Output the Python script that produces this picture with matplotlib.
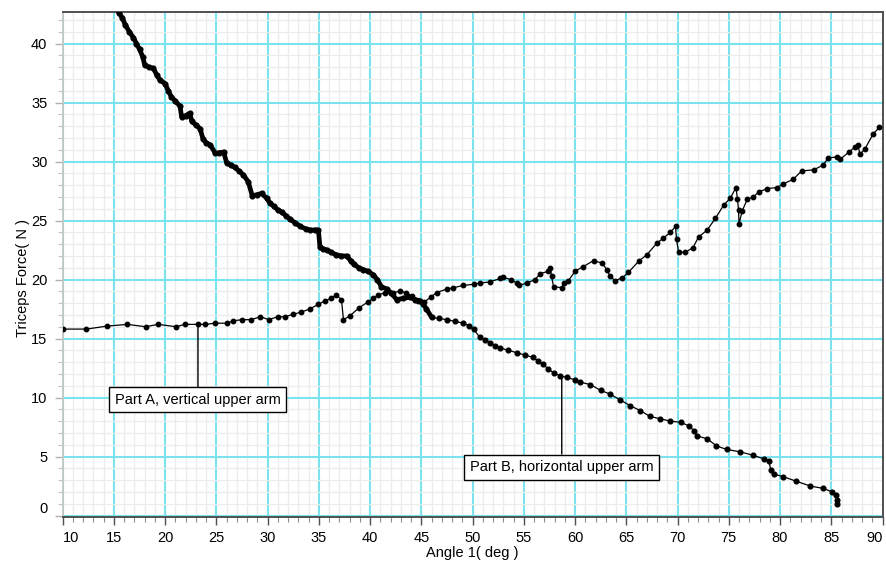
import matplotlib
matplotlib.use("Agg")
import matplotlib.pyplot as plt
from matplotlib.ticker import MultipleLocator
from matplotlib.transforms import ScaledTranslation

# ---- data ----
angle_a = [10.0, 12.3, 14.3, 16.3, 18.1, 19.3, 21.1, 21.9, 23.2, 23.9, 24.9, 26.0, 26.65, 27.5, 28.4,
           29.3, 30.1, 31.0, 31.7, 32.5, 33.3, 34.1, 34.95, 35.6, 36.2, 36.7, 37.2, 37.4, 38.0, 38.9,
           39.8, 40.3, 40.8, 41.5, 42.2, 42.9, 43.5, 44.1, 44.7, 45.3, 45.9, 46.5, 47.5, 48.1, 49.1,
           50.1, 50.7, 51.7, 52.7, 53.0, 53.7, 54.3, 54.5, 55.3, 56.1, 56.6, 57.4, 57.6, 57.7, 57.9,
           58.7, 58.9, 59.35, 60.0, 60.8, 61.8, 62.6, 63.1, 63.4, 63.9, 64.6, 65.2, 66.2, 67.0, 68.0,
           68.6, 69.3, 69.8, 69.9, 70.1, 70.75, 71.5, 72.05, 72.9, 73.7, 74.5, 75.15, 75.7, 75.85,
           75.95, 76.0, 76.3, 76.8, 77.4, 77.9, 78.7, 79.7, 80.3, 81.3, 82.1, 83.3, 84.2, 84.7, 85.55,
           85.9, 86.7, 87.3, 87.6, 87.8, 88.3, 89.1, 89.7]
force_a = [15.8, 15.8, 16.05, 16.2, 16.0, 16.2, 16.0, 16.2, 16.2, 16.2, 16.3, 16.3, 16.5, 16.6, 16.6,
           16.85, 16.6, 16.85, 16.85, 17.05, 17.25, 17.5, 17.9, 18.2, 18.4, 18.7, 18.3, 16.6, 16.9, 17.6,
           18.1, 18.4, 18.7, 18.9, 18.9, 19.0, 18.9, 18.6, 18.2, 18.1, 18.5, 18.9, 19.2, 19.3, 19.5,
           19.6, 19.7, 19.8, 20.1, 20.2, 20.0, 19.7, 19.5, 19.7, 20.0, 20.5, 20.7, 21.0, 20.3, 19.4,
           19.3, 19.7, 19.9, 20.7, 21.1, 21.6, 21.4, 20.85, 20.3, 19.9, 20.15, 20.6, 21.55, 22.1, 23.1,
           23.5, 24.0, 24.5, 23.4, 22.3, 22.3, 22.7, 23.6, 24.2, 25.2, 26.3, 26.9, 27.8, 26.8,
           25.9, 24.7, 25.8, 26.8, 27.0, 27.4, 27.7, 27.8, 28.1, 28.5, 29.2, 29.3, 29.7, 30.3, 30.4,
           30.2, 30.8, 31.2, 31.4, 30.6, 31.1, 32.35, 32.9]

angle_b = [15.3, 15.5, 15.8, 16.1, 16.5, 16.9, 17.2, 17.5, 17.8, 18.0, 18.4, 18.85, 19.2, 19.5, 20.0,
           20.3, 20.6, 21.0, 21.45, 21.6, 22.0, 22.4, 22.6, 23.0, 23.4, 23.7, 24.0, 24.4, 24.9, 25.3,
           25.7, 26.0, 26.4, 26.8, 27.2, 27.6, 28.1, 28.5, 29.0, 29.4, 29.9, 30.2, 30.6, 31.0, 31.4,
           31.8, 32.2, 32.7, 33.2, 33.7, 34.1, 34.6, 34.95, 35.1, 35.4, 35.8, 36.2, 36.7, 37.2, 37.7,
           38.1, 38.4, 38.9, 39.3, 39.8, 40.3, 40.7, 41.1, 41.6, 42.0, 42.6, 43.2, 43.9, 44.4, 44.9,
           45.2, 45.5, 46.0, 46.7, 47.5, 48.3, 49.1, 49.6, 50.1, 50.7, 51.2, 51.7, 52.2, 52.7, 53.5,
           54.3, 55.1, 55.9, 56.4, 56.9, 57.4, 57.9, 58.5, 59.2, 60.0, 60.5, 61.5, 62.5, 63.4, 64.4,
           65.4, 66.35, 67.3, 68.3, 69.3, 70.3, 71.1, 71.6, 71.9, 72.9, 73.8, 74.8, 76.1, 77.4, 78.4,
           78.9, 79.1, 79.4, 80.3, 81.6, 82.95, 84.2, 85.1, 85.5, 85.6, 85.6]
force_b = [43.0, 42.6, 42.2, 41.6, 41.0, 40.5, 40.0, 39.5, 38.9, 38.2, 38.0, 37.9, 37.3, 36.9, 36.6,
           36.0, 35.5, 35.1, 34.7, 33.8, 33.9, 34.1, 33.4, 33.1, 32.8, 31.9, 31.6, 31.4, 30.7, 30.75,
           30.8, 29.9, 29.7, 29.5, 29.2, 28.9, 28.3, 27.1, 27.2, 27.3, 26.9, 26.5, 26.2, 25.9, 25.7,
           25.4, 25.1, 24.8, 24.5, 24.3, 24.2, 24.2, 24.2, 22.8, 22.6, 22.5, 22.3, 22.1, 22.0, 22.0,
           21.6, 21.3, 21.0, 20.85, 20.7, 20.4, 20.0, 19.4, 19.2, 18.9, 18.3, 18.4, 18.5, 18.3, 18.2,
           17.9, 17.5, 16.8, 16.7, 16.6, 16.45, 16.3, 16.1, 15.8, 15.1, 14.9, 14.65, 14.4, 14.2, 14.0,
           13.8, 13.6, 13.4, 13.1, 12.8, 12.4, 12.1, 11.85, 11.7, 11.5, 11.3, 11.1, 10.6, 10.3, 9.8,
           9.3, 8.9, 8.4, 8.2, 8.0, 7.9, 7.6, 7.2, 6.75, 6.5, 5.9, 5.6, 5.4, 5.1, 4.8,
           4.6, 3.9, 3.5, 3.3, 2.9, 2.5, 2.3, 2.0, 1.7, 1.3, 1.0]

label_a = "Part A, vertical upper arm"
label_b = "Part B, horizontal upper arm"
x_label = "Angle 1( deg )"
y_label = "Triceps Force( N )"

# ---- figure ----
plt.rcParams['font.family'] = ['Liberation Sans', 'DejaVu Sans']
fig = plt.figure(figsize=(8.86, 5.65), dpi=100)
ax = fig.add_axes([62.7 / 886, 1 - 516.7 / 565, (882.5 - 62.7) / 886, (516.7 - 11.7) / 565])

ax.set_xlim(10, 90)
ax.set_ylim(-0.1, 42.7)

ax.xaxis.set_major_locator(MultipleLocator(5))
ax.xaxis.set_minor_locator(MultipleLocator(1))
ax.yaxis.set_major_locator(MultipleLocator(5))
ax.yaxis.set_minor_locator(MultipleLocator(1))

ax.grid(which='minor', color='#ececec', lw=0.9, zorder=0)
ax.grid(which='major', color='#7be3ee', lw=1.5, zorder=1)
ax.set_axisbelow(True)

for s in ['top', 'right', 'bottom']:
    ax.spines[s].set_color('#505050')
    ax.spines[s].set_linewidth(1.4)
ax.spines['left'].set_color('#c4c4c4')
ax.spines['left'].set_linewidth(1.2)

ax.tick_params(axis='x', which='major', length=6, width=1, color='#505050', labelsize=10.5, pad=4)
ax.tick_params(axis='x', which='minor', length=3.5, width=0.8, color='#909090')
ax.tick_params(axis='y', which='major', length=6, width=1, color='#b0b0b0', labelsize=10.5, pad=5)
ax.tick_params(axis='y', which='minor', length=3.5, width=0.8, color='#c0c0c0')

# series
ax.plot(angle_a, force_a, color='black', lw=0.9, marker='o', ms=3.2, zorder=5)
dense = [i for i, v in enumerate(angle_b) if v <= 46.0]
ax.plot([angle_b[i] for i in dense], [force_b[i] for i in dense], color='black', lw=3.4,
        solid_joinstyle='round', solid_capstyle='round', zorder=5)
ax.plot(angle_b, force_b, color='black', lw=0.9, marker='o', ms=3.4, zorder=5)

# annotations
bbox = dict(boxstyle='square,pad=0.38', fc='white', ec='black', lw=1)
ax.annotate(label_a, xy=(23.2, 16.2), xytext=(23.2, 9.8), ha='center', va='center', fontsize=10.5,
            bbox=bbox, arrowprops=dict(arrowstyle='-', color='black', lw=1, shrinkA=0, shrinkB=0),
            zorder=6)
ax.annotate(label_b, xy=(58.7, 11.8), xytext=(58.7, 4.1), ha='center', va='center', fontsize=10.5,
            bbox=bbox, arrowprops=dict(arrowstyle='-', color='black', lw=1, shrinkA=0, shrinkB=0),
            zorder=6)

ax.set_xlabel(x_label, fontsize=10.5)
ax.set_ylabel(y_label, fontsize=10.5)
ax.xaxis.set_label_coords(0.5, -0.058)
ax.yaxis.set_label_coords(-0.040, 0.473)

# edge tick labels nudged inside, as in the reference
fig.canvas.draw()
for tick in ax.xaxis.get_major_ticks():
    txt = tick.label1.get_text()
    if txt == '10':
        tick.label1.set_horizontalalignment('left')
    elif txt == '90':
        tick.label1.set_horizontalalignment('right')
for tick in ax.yaxis.get_major_ticks():
    if tick.label1.get_text() in ('0', '\u22120', '-0'):
        tick.label1.set_transform(tick.label1.get_transform()
                                  + ScaledTranslation(0, 8 / 100, fig.dpi_scale_trans))

fig.savefig('out.png', dpi=100)
